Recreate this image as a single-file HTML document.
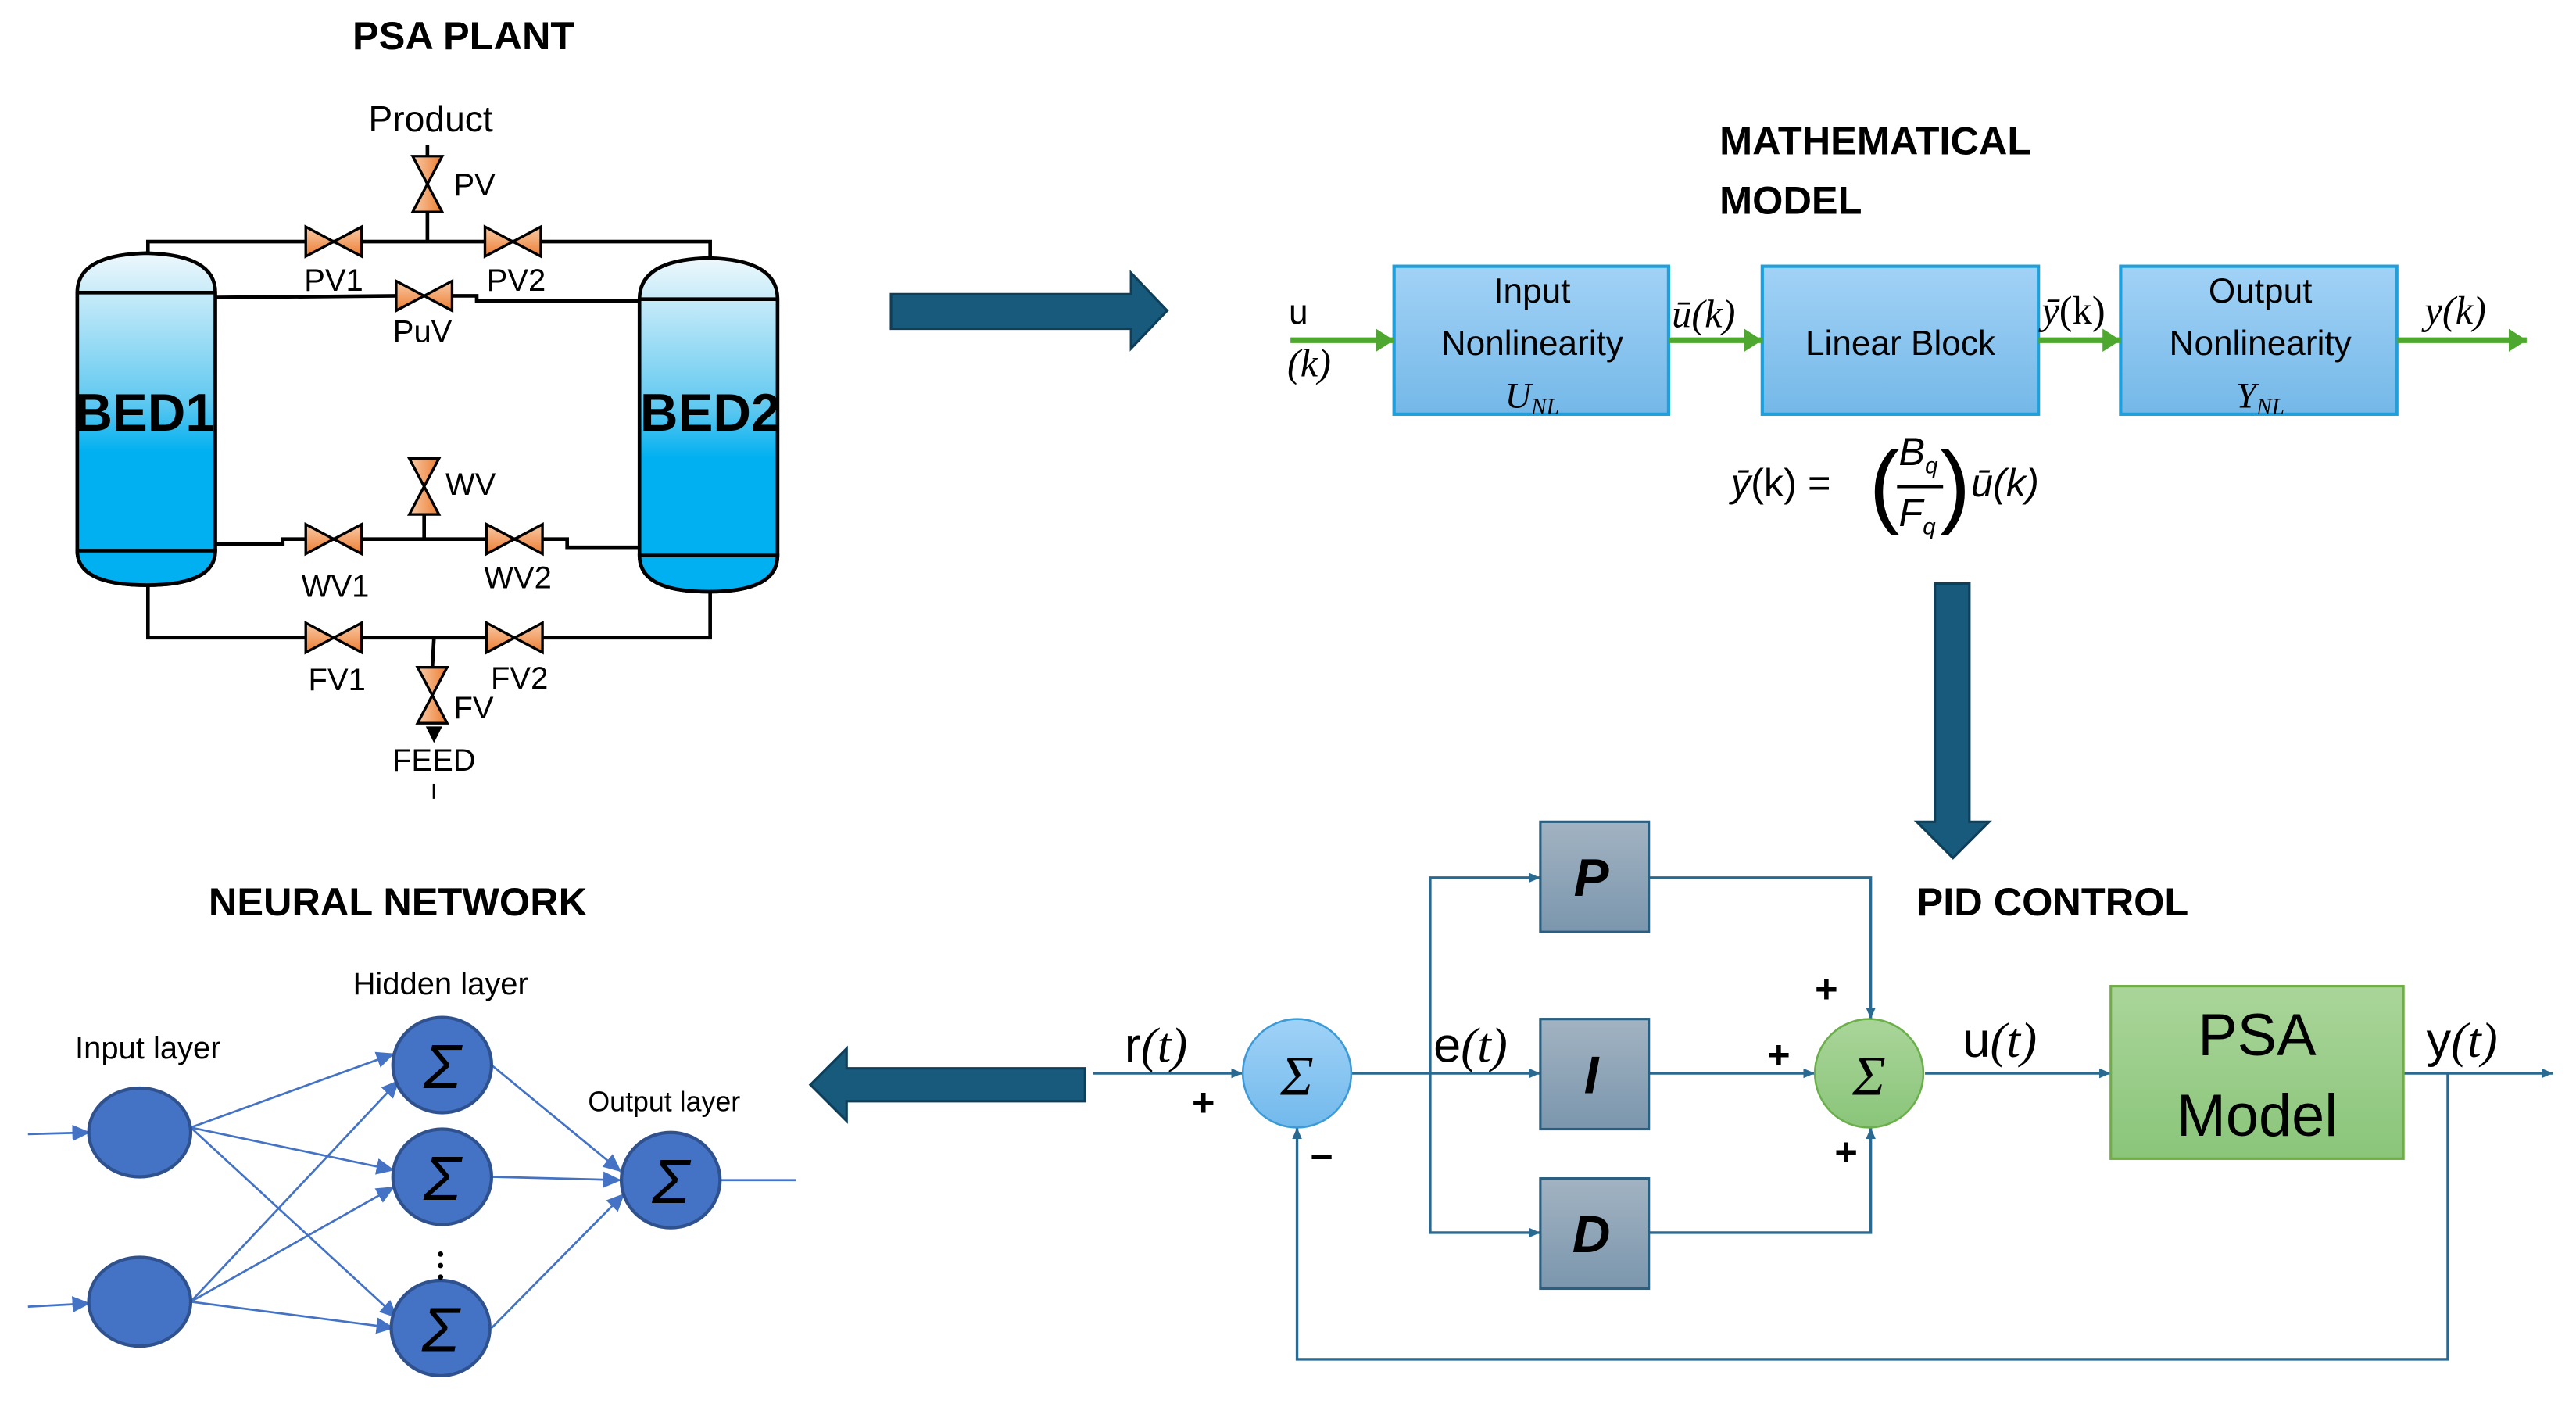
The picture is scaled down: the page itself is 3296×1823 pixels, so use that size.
<!DOCTYPE html>
<html><head><meta charset="utf-8"><style>
html,body{margin:0;padding:0;background:#fff;}
svg{display:block;}
text{font-family:"Liberation Sans",sans-serif;}
.t{font-weight:bold;font-size:24px;}
.m{font-family:"Liberation Serif",serif;font-style:italic;}
</style></head><body>
<svg width="3296" height="1823" viewBox="0 0 1567 867" preserveAspectRatio="none" xmlns="http://www.w3.org/2000/svg">
<defs>
<linearGradient id="bed" x1="0" y1="0" x2="0" y2="1">
<stop offset="0" stop-color="#eef8fc"/><stop offset="0.45" stop-color="#5fc8f0"/><stop offset="0.6" stop-color="#00b0f0"/><stop offset="1" stop-color="#00b0f0"/></linearGradient>
<linearGradient id="valve" x1="0" y1="0" x2="0" y2="1"><stop offset="0" stop-color="#f8cba8"/><stop offset="1" stop-color="#ed7d31"/></linearGradient>
<linearGradient id="valveh" x1="0" y1="0" x2="1" y2="0"><stop offset="0" stop-color="#f8cba8"/><stop offset="1" stop-color="#ed7d31"/></linearGradient>
<linearGradient id="mb" x1="0" y1="0" x2="0" y2="1"><stop offset="0" stop-color="#a2d2f6"/><stop offset="1" stop-color="#74b8e8"/></linearGradient>
<linearGradient id="gb" x1="0" y1="0" x2="0" y2="1"><stop offset="0" stop-color="#a2b3c2"/><stop offset="1" stop-color="#7b96ad"/></linearGradient>
<linearGradient id="gr" x1="0" y1="0" x2="0" y2="1"><stop offset="0" stop-color="#aad59a"/><stop offset="1" stop-color="#8ac57a"/></linearGradient>
<linearGradient id="bl" x1="0" y1="0" x2="0" y2="1"><stop offset="0" stop-color="#a0d2f7"/><stop offset="1" stop-color="#72b9ec"/></linearGradient>
<marker id="ab" markerWidth="8" markerHeight="8" refX="7" refY="4" orient="auto" markerUnits="userSpaceOnUse"><path d="M0,1 L7,4 L0,7 z" fill="#2a6a90"/></marker>
<marker id="ag" markerWidth="12" markerHeight="14" refX="11" refY="7" orient="auto" markerUnits="userSpaceOnUse"><path d="M0,0 L11,7 L0,14 z" fill="#4ea72e"/></marker>
<marker id="an" markerWidth="12" markerHeight="12" refX="11" refY="6" orient="auto" markerUnits="userSpaceOnUse"><path d="M0,1 L11,6 L0,11 z" fill="#4472c4"/></marker>
<g id="hv"><path d="M-17,-9 L0,0 L-17,9 Z M17,-9 L0,0 L17,9 Z" fill="url(#valve)" stroke="#000" stroke-width="1.6"/></g>
<g id="vv"><path d="M-9,-17 L0,0 L9,-17 Z M-9,17 L0,0 L9,17 Z" fill="url(#valveh)" stroke="#000" stroke-width="1.6"/></g>
</defs>

<text x="282" y="30" class="t" text-anchor="middle">PSA PLANT</text>
<text x="262" y="80" font-size="22" text-anchor="middle">Product</text>
<g stroke="#000" stroke-width="2.2" fill="none">
<line x1="260" y1="88" x2="260" y2="97"/>
<line x1="260" y1="128" x2="260" y2="147"/>
<polyline points="90,157 90,147 432,147 432,160"/>
<polyline points="131,181 242,180"/>
<polyline points="275,180 290,180 290,183 389,183"/>
<line x1="258" y1="313" x2="258" y2="328"/>
<polyline points="131,331 172,331 172,328 345,328 345,333 389,333"/>
<polyline points="90,356 90,388 432,388 432,360"/>
<line x1="264" y1="388" x2="263" y2="406"/>
<line x1="264" y1="477" x2="264" y2="486" stroke-width="1.5"/>
</g>
<path d="M259,442 L264,452 L269,442" fill="#000"/>
<path d="M47,178 Q47,155 89,154 Q131,155 131,178 L131,335 Q131,356 89,356 Q47,356 47,335 Z" fill="url(#bed)" stroke="#000" stroke-width="2.2"/>
<path d="M47,335 Q47,356 89,356 Q131,356 131,335 Z" fill="#00b0f0" stroke="#000" stroke-width="2.2"/>
<line x1="47" y1="178" x2="131" y2="178" stroke="#000" stroke-width="2.2"/>
<path d="M389,182 Q389,158 431,157 Q473,158 473,182 L473,338 Q473,360 431,360 Q389,360 389,338 Z" fill="url(#bed)" stroke="#000" stroke-width="2.2"/>
<path d="M389,338 Q389,360 431,360 Q473,360 473,338 Z" fill="#00b0f0" stroke="#000" stroke-width="2.2"/>
<line x1="389" y1="182" x2="473" y2="182" stroke="#000" stroke-width="2.2"/>
<text x="88" y="262" font-size="32" font-weight="bold" text-anchor="middle">BED1</text>
<text x="432" y="262" font-size="32" font-weight="bold" text-anchor="middle">BED2</text>
<use href="#vv" x="260" y="112"/>
<use href="#hv" x="203" y="147"/>
<use href="#hv" x="312" y="147"/>
<use href="#hv" x="258" y="180"/>
<use href="#vv" x="258" y="296"/>
<use href="#hv" x="203" y="328"/>
<use href="#hv" x="313" y="328"/>
<use href="#hv" x="203" y="388"/>
<use href="#hv" x="313" y="388"/>
<use href="#vv" x="263" y="423"/>
<g font-size="19">
<text x="276" y="119">PV</text>
<text x="203" y="177" text-anchor="middle">PV1</text>
<text x="314" y="177" text-anchor="middle">PV2</text>
<text x="257" y="208" text-anchor="middle">PuV</text>
<text x="271" y="301">WV</text>
<text x="204" y="363" text-anchor="middle">WV1</text>
<text x="315" y="358" text-anchor="middle">WV2</text>
<text x="205" y="420" text-anchor="middle">FV1</text>
<text x="316" y="419" text-anchor="middle">FV2</text>
<text x="276" y="437">FV</text>
<text x="264" y="469" text-anchor="middle">FEED</text>
</g>

<path d="M542,179 L688,179 L688,166 L710,189 L688,212 L688,200 L542,200 Z" fill="#175a7c" stroke="#0f3f58" stroke-width="1.5"/>

<text x="1046" y="94" class="t">MATHEMATICAL</text>
<text x="1046" y="130" class="t">MODEL</text>
<g stroke="#1fa0dc" stroke-width="2" fill="url(#mb)">
<rect x="848" y="162" width="167" height="90"/>
<rect x="1072" y="162" width="168" height="90"/>
<rect x="1290" y="162" width="168" height="90"/>
</g>
<g font-size="21" text-anchor="middle">
<text x="932" y="184">Input</text>
<text x="932" y="216">Nonlinearity</text>
<text x="1156" y="216">Linear Block</text>
<text x="1375" y="184">Output</text>
<text x="1375" y="216">Nonlinearity</text>
</g>
<text x="932" y="248" font-size="22" class="m" text-anchor="middle">U<tspan font-size="14" dy="4">NL</tspan></text>
<text x="1375" y="248" font-size="22" class="m" text-anchor="middle">Y<tspan font-size="14" dy="4">NL</tspan></text>
<g stroke="#4ea72e" stroke-width="3.5" marker-end="url(#ag)">
<line x1="785" y1="207" x2="848" y2="207"/>
<line x1="1015" y1="207" x2="1072" y2="207"/>
<line x1="1240" y1="207" x2="1290" y2="207"/>
<line x1="1458" y1="207" x2="1537" y2="207"/>
</g>
<text x="784" y="197" font-size="21">u</text>
<text x="783" y="229" font-size="24" class="m">(k)</text>
<text x="1017" y="199" font-size="24" class="m">ū(k)</text>
<text x="1242" y="197" font-size="24" class="m">ȳ<tspan font-style="normal">(k)</tspan></text>
<text x="1475" y="197" font-size="24" class="m">y(k)</text>
<g font-size="24" class="m">
<text x="1053" y="302">ȳ<tspan font-style="normal">(k) =</tspan></text>
<text x="1137" y="314" font-size="56" font-style="normal">(</text>
<text x="1180" y="314" font-size="56" font-style="normal">)</text>
<text x="1155" y="283">B<tspan font-size="14" dy="5">q</tspan></text>
<line x1="1154" y1="296" x2="1182" y2="296" stroke="#000" stroke-width="2"/>
<text x="1155" y="320">F<tspan font-size="14" dy="5">q</tspan></text>
<text x="1199" y="302">ū(k)</text>
</g>

<path d="M1177,355 L1198,355 L1198,500 L1210,500 L1188,522 L1166,500 L1177,500 Z" fill="#175a7c" stroke="#0f3f58" stroke-width="1.5"/>

<text x="1166" y="557" class="t">PID CONTROL</text>
<g stroke="#2a6a90" stroke-width="1.6" fill="none">
<line x1="665" y1="653" x2="756" y2="653" marker-end="url(#ab)"/>
<line x1="822" y1="653" x2="937" y2="653" marker-end="url(#ab)"/>
<polyline points="870,653 870,534 937,534" marker-end="url(#ab)"/>
<polyline points="870,653 870,750 937,750" marker-end="url(#ab)"/>
<polyline points="1003,534 1138,534 1138,620" marker-end="url(#ab)"/>
<line x1="1003" y1="653" x2="1104" y2="653" marker-end="url(#ab)"/>
<polyline points="1003,750 1138,750 1138,686" marker-end="url(#ab)"/>
<line x1="1171" y1="653" x2="1284" y2="653" marker-end="url(#ab)"/>
<line x1="1462" y1="653" x2="1553" y2="653" marker-end="url(#ab)"/>
<polyline points="1489,653 1489,827 789,827 789,686" marker-end="url(#ab)"/>
</g>
<ellipse cx="789" cy="653" rx="33" ry="33" fill="url(#bl)" stroke="#3c9ad6" stroke-width="1.2"/>
<ellipse cx="1137" cy="653" rx="33" ry="33" fill="url(#gr)" stroke="#6aaf4a" stroke-width="1.2"/>
<text x="789" y="666" font-size="34" class="m" text-anchor="middle">Σ</text>
<text x="1137" y="666" font-size="34" class="m" text-anchor="middle">Σ</text>
<g fill="url(#gb)" stroke="#2a5f80" stroke-width="1.5">
<rect x="937" y="500" width="66" height="67"/>
<rect x="937" y="620" width="66" height="67"/>
<rect x="937" y="717" width="66" height="67"/>
</g>
<g font-size="32" class="m" font-weight="bold" text-anchor="middle">
<text x="968" y="545">P</text>
<text x="968" y="665">I</text>
<text x="968" y="762">D</text>
</g>
<rect x="1284" y="600" width="178" height="105" fill="url(#gr)" stroke="#70ad47" stroke-width="1.5"/>
<text x="1373" y="642" font-size="36" text-anchor="middle">PSA</text>
<text x="1373" y="691" font-size="36" text-anchor="middle">Model</text>
<g font-size="30">
<text x="684" y="646">r<tspan class="m">(t)</tspan></text>
<text x="872" y="646">e<tspan class="m">(t)</tspan></text>
<text x="1194" y="643">u<tspan class="m">(t)</tspan></text>
<text x="1476" y="643">y<tspan class="m">(t)</tspan></text>
</g>
<g font-size="24" font-weight="bold">
<text x="725" y="679">+</text>
<text x="797" y="712">−</text>
<text x="1104" y="610">+</text>
<text x="1075" y="650">+</text>
<text x="1116" y="709">+</text>
</g>

<path d="M660,650 L515,650 L515,638 L493,660 L515,682 L515,670 L660,670 Z" fill="#175a7c" stroke="#0f3f58" stroke-width="1.5"/>

<text x="242" y="557" class="t" text-anchor="middle">NEURAL NETWORK</text>
<text x="90" y="644" font-size="19" text-anchor="middle">Input layer</text>
<text x="268" y="605" font-size="19" text-anchor="middle">Hidden layer</text>
<text x="404" y="676" font-size="17" text-anchor="middle">Output layer</text>
<g stroke="#4472c4" stroke-width="1.3">
<line x1="17" y1="690" x2="55" y2="689" marker-end="url(#an)"/>
<line x1="17" y1="795" x2="55" y2="793" marker-end="url(#an)"/>
<line x1="116" y1="686" x2="240" y2="641" marker-end="url(#an)"/>
<line x1="116" y1="686" x2="240" y2="712" marker-end="url(#an)"/>
<line x1="116" y1="686" x2="242" y2="802" marker-end="url(#an)"/>
<line x1="116" y1="792" x2="243" y2="657" marker-end="url(#an)"/>
<line x1="116" y1="792" x2="240" y2="722" marker-end="url(#an)"/>
<line x1="116" y1="792" x2="240" y2="808" marker-end="url(#an)"/>
<line x1="299" y1="648" x2="378" y2="713" marker-end="url(#an)"/>
<line x1="299" y1="716" x2="378" y2="718" marker-end="url(#an)"/>
<line x1="299" y1="808" x2="380" y2="726" marker-end="url(#an)"/>
<line x1="438" y1="718" x2="484" y2="718"/>
</g>
<g fill="#4472c4" stroke="#2f528f" stroke-width="2">
<ellipse cx="85" cy="689" rx="31" ry="27"/>
<ellipse cx="85" cy="792" rx="31" ry="27"/>
<ellipse cx="269" cy="648" rx="30" ry="29"/>
<ellipse cx="269" cy="716" rx="30" ry="29"/>
<ellipse cx="268" cy="808" rx="30" ry="29"/>
<ellipse cx="408" cy="718" rx="30" ry="29"/>
</g>
<g font-size="38" class="m" text-anchor="middle" font-style="normal">
<text x="269" y="662">Σ</text>
<text x="269" y="730">Σ</text>
<text x="268" y="822">Σ</text>
<text x="408" y="732">Σ</text>
</g>
<g fill="#000"><circle cx="268" cy="763" r="1.6"/><circle cx="268" cy="770" r="1.6"/><circle cx="268" cy="777" r="1.6"/></g>
</svg>
</body></html>
